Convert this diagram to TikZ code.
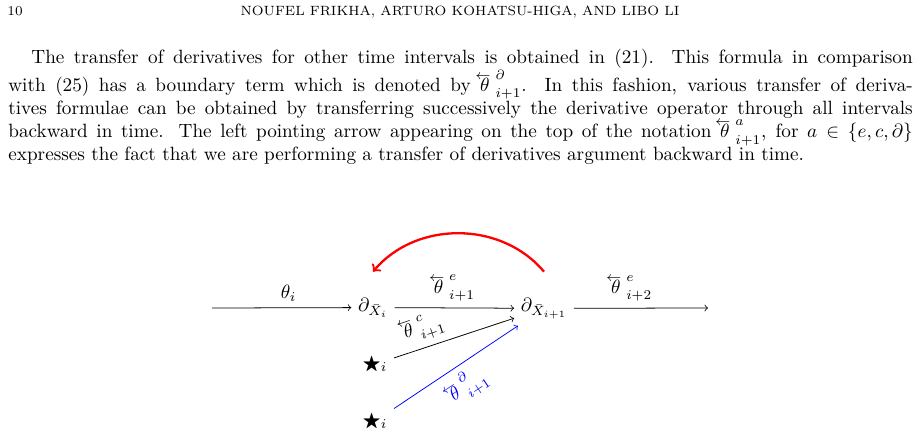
\documentclass[tikz,border=0pt]{standalone}
\usepackage{amsmath}
\usepackage{amssymb}
\usepackage{tikz}

\newcommand{\bwtheta}[2]{\mathord{\vbox{\offinterlineskip\hbox{\kern-2.5pt$\scriptstyle\leftarrow$}\kern-0.9pt\hbox{$\theta$\kern3pt\vrule width0pt depth2.9pt}}}^{#1}_{#2}}

\begin{document}
\begin{tikzpicture}[x=0.5208pt, y=-0.5208pt, cell/.style={anchor=base}]
	\useasboundingbox (0, 0) rectangle (920, 435);
	% running head and text
	\node[anchor=base west, inner sep=0] (pagenum) at (7, 16) {\scriptsize 10};
	\node[anchor=base, inner sep=0] (runhead) at (460, 16) {\scriptsize NOUFEL FRIKHA, ARTURO KOHATSU-HIGA, AND LIBO LI};
	\node[anchor=north west, inner sep=0, text width=471pt, align=justify] (para) at (8, 48.6) {\hspace*{12pt}The transfer of derivatives for other time intervals is obtained in (21). This formula in comparison \linebreak with (25) has a boundary term which is denoted by $\bwtheta{\partial}{i+1}$. In this fashion, various transfer of deriva-\linebreak tives formulae can be obtained by transferring successively the derivative operator through all intervals \linebreak backward in time. The left pointing arrow appearing on the top of the notation $\bwtheta{a}{i+1}$, for $a\in\{e,c,\partial\}$ \linebreak expresses the fact that we are performing a transfer of derivatives argument backward in time.};
	% diagram
	\node[cell] (dXi) at (373, 311) {$\partial_{\bar X_i}$};
	\node[cell] (dXii) at (544, 311) {$\partial_{\bar X_{i+1}}$};
	\node[cell] (stari) at (375, 369) {$\bigstar_i$};
	\node[cell] (starii) at (375, 426) {$\bigstar_i$};
	\coordinate (inL) at (212, 308);
	\coordinate (outR) at (708, 308);
	\draw[->] (inL) -- (dXi) node[pos=0.55, above] {$\theta_i$};
	\draw[->] (dXi) -- (dXii) node[midway, above] {$\bwtheta{e}{i+1}$};
	\draw[->] (dXii) -- (outR) node[pos=0.43, above] {$\bwtheta{e}{i+2}$};
	\draw[->] (stari) -- (dXii) node[pos=0.3, above, sloped] {$\bwtheta{c}{i+1}$};
	\draw[->, color=blue] (starii) -- (dXii) node[pos=0.5, below, sloped] {$\bwtheta{\partial}{i+1}$};
	\draw[->, color=red, very thick] ([yshift=10pt]dXii.north) to[bend right=50] ([yshift=10pt]dXi.north);
\end{tikzpicture}
\end{document}
